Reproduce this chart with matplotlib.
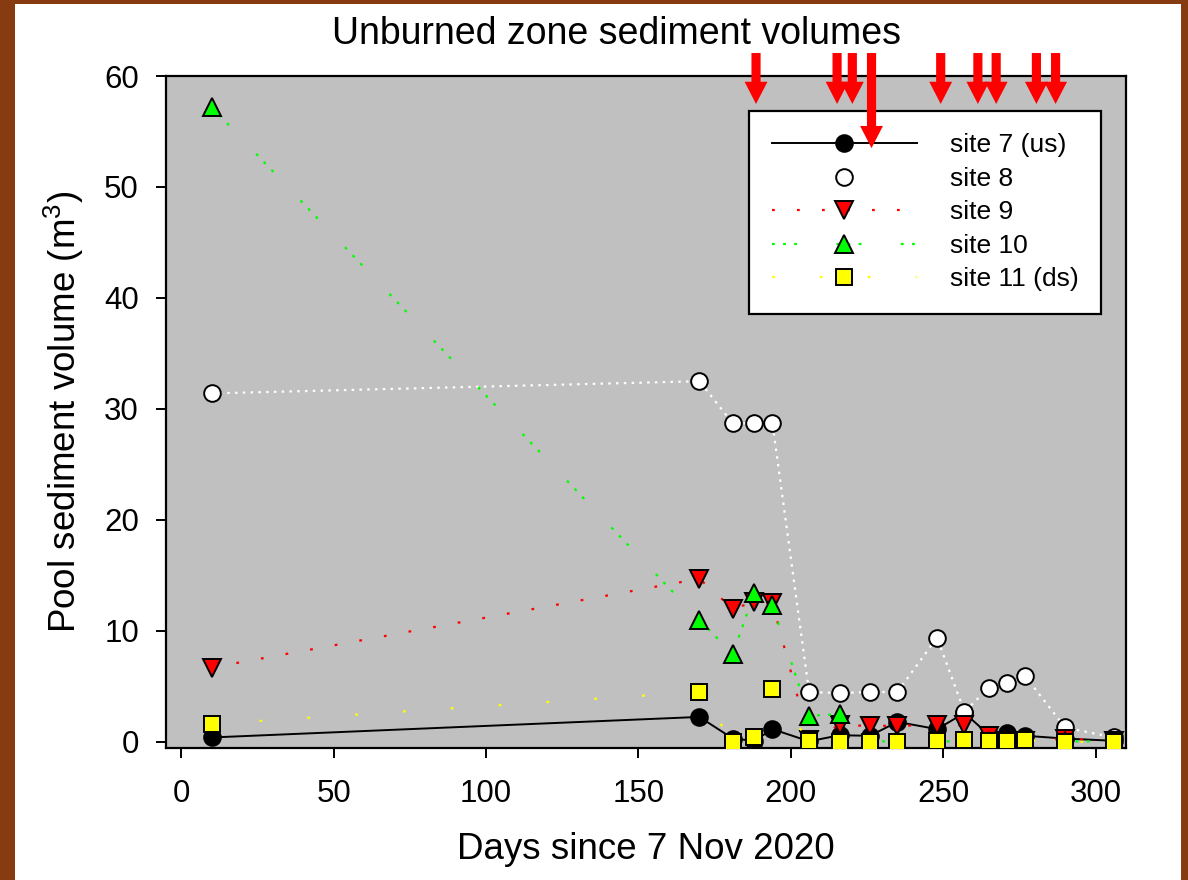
import matplotlib
matplotlib.use('Agg')
import matplotlib.pyplot as plt
from matplotlib.patches import Rectangle

plt.rcParams['font.family'] = ['Liberation Sans', 'DejaVu Sans']
plt.rcParams['mathtext.fontset'] = 'custom'
plt.rcParams['mathtext.rm'] = 'Liberation Sans'
plt.rcParams['lines.scale_dashes'] = False

# ---- data ----
days = [10, 170, 181, 188, 194, 206, 216, 226, 235, 248, 257, 265, 271, 277, 290, 306]
site7 = [0.4, 2.25, 0.3, 0.1, 1.15, 0.05, 0.6, 0.55, 1.8, 1.15, 2.6, 0.65, 0.8, 0.55, 0.3, 0.1]
site8 = [31.4, 32.5, 28.7, 28.7, 28.7, 4.5, 4.4, 4.5, 4.5, 9.4, 2.7, 4.9, 5.3, 5.9, 1.3, 0.4]
site9 = [6.7, 14.7, 12.0, 12.6, 12.5, 0.2, 1.5, 1.45, 1.45, 1.5, 1.5, 0.55, 0.05, 0.05, 0.3, 0.1]
site10 = [57.2, 11.0, 7.9, 13.4, 12.3, 2.35, 2.5, 0.05, 0.05, 0.05, 0.05, 0.05, 0.05, 0.05, 0.05, 0.05]
site11 = [1.6, 4.5, 0.0, 0.4, 4.8, 0.05, 0.0, 0.0, 0.0, 0.05, 0.15, 0.05, 0.1, 0.15, 0.0, 0.0]

labels = ['site 7 (us)', 'site 8', 'site 9', 'site 10', 'site 11 (ds)']

arrow_days = [188.6, 215.2, 220.2, 226.5, 249.2, 261.4, 267.4, 280.6, 286.9]
arrow_long = [False, False, False, True, False, False, False, False, False]

xticks = [0, 50, 100, 150, 200, 250, 300]
yticks = [0, 10, 20, 30, 40, 50, 60]

# ---- figure ----
W, H = 1188, 880
fig = plt.figure(figsize=(W / 100, H / 100), dpi=100)
fig.patch.set_facecolor('white')
ax = fig.add_axes([166 / W, 1 - 748 / H, (1126 - 166) / W, (748 - 76) / H])
ax.set_facecolor('#C0C0C0')

ms = 12
mew = 1.4
ax.plot(days, site7, '-', color='black', lw=1.4, marker='o', ms=ms,
        mfc='black', mec='black', mew=mew, label=labels[0], zorder=3)
ax.plot(days, site8, color='white', lw=1.6, dashes=(1.8, 3.8), marker='o', ms=ms,
        mfc='white', mec='black', mew=mew, label=labels[1], zorder=3)
ax.plot(days, site9, color='#FF0000', lw=1.6, dashes=(2.0, 16.0), marker='v', ms=ms + 1,
        mfc='#FF0000', mec='black', mew=mew, label=labels[2], zorder=3)
ax.plot(days, site10, color='#00FF00', lw=1.6, dashes=(2.0, 6.0, 2.0, 6.0, 2.0, 28.4),
        marker='^', ms=ms + 1, mfc='#00FF00', mec='black', mew=mew, label=labels[3], zorder=3)
ax.plot(days, site11, color='#FFFF00', lw=1.6, dashes=(2.0, 32.5), marker='s', ms=ms - 1,
        mfc='#FFFF00', mec='black', mew=mew, label=labels[4], zorder=3)

ax.set_xlim(-5, 310)
ax.set_ylim(-0.55, 60)
ax.set_xticks(xticks)
ax.set_yticks(yticks)
ax.tick_params(axis='both', direction='out', length=7.5, width=1.4, labelsize=22.5)
ax.tick_params(axis='x', pad=15)
ax.tick_params(axis='y', pad=12)
for sp in ax.spines.values():
    sp.set_linewidth(1.6)

ax.set_xlabel('Days since 7 Nov 2020', fontsize=26.5)
ax.set_ylabel(r'Pool sediment volume (m$^\mathregular{3}$)', fontsize=26.5)
ax.xaxis.set_label_coords(0.5, -0.125)
ax.yaxis.set_label_coords(-0.083, 0.5)

leg = ax.legend(loc='upper right', bbox_to_anchor=(0.974, 0.948), borderaxespad=0,
                fontsize=19, frameon=True, fancybox=False, framealpha=1,
                edgecolor='black', handlelength=5.5, handletextpad=1.25,
                borderpad=0.85, labelspacing=0.36, numpoints=1)
leg.get_frame().set_linewidth(1.6)
leg.set_zorder(5)

# event arrows
top = 62.07
for d, lg in zip(arrow_days, arrow_long):
    tip = 53.5 if lg else 57.48
    ax.arrow(d, top, 0, tip - top, width=3.0, head_width=7.5, head_length=2.0,
             length_includes_head=True, fc='#FF0000', ec='#FF0000', lw=0,
             clip_on=False, zorder=6)

fig.text(616.5 / W, 1 - 34 / H, 'Unburned zone sediment volumes', ha='center', va='center',
         fontsize=27)

# brown frame
brown = '#873B10'
fig.add_artist(Rectangle((0, 0), 15 / W, 1, transform=fig.transFigure, color=brown, lw=0))
fig.add_artist(Rectangle((1181 / W, 0), 7 / W, 1, transform=fig.transFigure, color=brown, lw=0))
fig.add_artist(Rectangle((0, 1 - 4 / H), 1, 4 / H, transform=fig.transFigure, color=brown, lw=0))

fig.savefig('out.png', dpi=100)
